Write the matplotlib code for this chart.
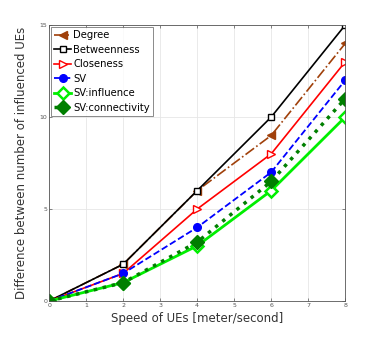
import matplotlib
matplotlib.use("Agg")
import matplotlib.pyplot as plt

speed = [0, 2, 4, 6, 8]
degree = [0, 2, 6, 9, 14]
betweenness = [0, 2, 6, 10, 15]
closeness = [0, 1.5, 5, 8, 13]
sv = [0, 1.5, 4, 7, 12]
sv_influence = [0, 1, 3, 6, 10]
sv_connectivity = [0, 1, 3.2, 6.5, 11]

fig = plt.figure(figsize=(3.81, 3.39), dpi=100)
ax = fig.add_axes([0.129, 0.112, 0.777, 0.814])

ax.plot(speed, degree, color="#a0400a", ls="-.", lw=1.2, marker="<", ms=6,
        mfc="#a0400a", label="Degree")
ax.plot(speed, betweenness, color="black", ls="-", lw=1.2, marker="s", ms=5,
        mfc="white", label="Betweenness")
ax.plot(speed, closeness, color="red", ls="-", lw=1.2, marker=">", ms=6,
        mfc="white", label="Closeness")
ax.plot(speed, sv, color="blue", ls="--", lw=1.3, marker="o", ms=5.5,
        mfc="blue", label="SV")
ax.plot(speed, sv_influence, color="#00ee00", ls="-", lw=2.0, marker="D", ms=6,
        mfc="white", mew=1.8, label="SV:influence")
ax.plot(speed, sv_connectivity, color="#007f00", ls=":", lw=2.5, marker="D", ms=7,
        mfc="#007f00", label="SV:connectivity")

ax.set_xlim(0, 8)
ax.set_ylim(0, 15)
ax.set_xticks(range(9))
ax.set_yticks([0, 5, 10, 15])
ax.tick_params(labelsize=4.5, length=2, width=0.5, direction="in",
               top=True, right=True, colors="#555555", pad=1.5)
ax.grid(True, color="#e6e6e6", lw=0.6)
for s in ax.spines.values():
    s.set_color("#555555")
    s.set_linewidth(0.6)

ax.set_xlabel("Speed of UEs [meter/second]", fontsize=8.5, color="#333333", labelpad=3)
ax.set_ylabel("Difference between number of influenced UEs", fontsize=8.5,
              color="#333333", labelpad=8)

leg = ax.legend(loc="upper left", fontsize=7.2, frameon=True, fancybox=False,
                edgecolor="#555555", borderpad=0.3, labelspacing=0.45,
                handlelength=1.7, handletextpad=0.2, borderaxespad=0.2)
leg.get_frame().set_linewidth(0.6)

fig.savefig("out.png", dpi=100)
